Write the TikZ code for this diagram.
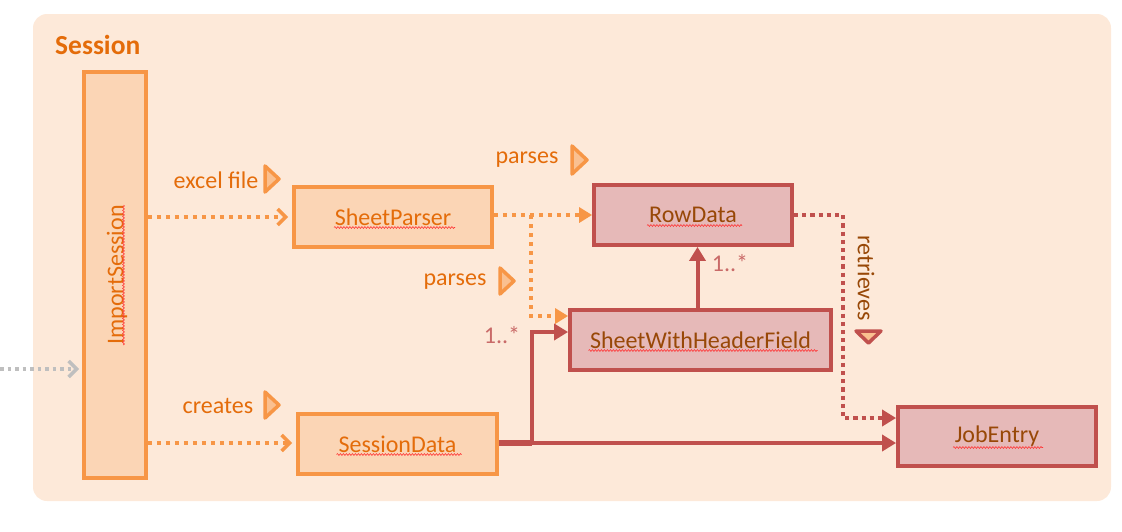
\documentclass[tikz,border=0pt]{standalone}
\usepackage{fontspec}
\setmainfont{Carlito}
\usetikzlibrary{arrows.meta,decorations.pathmorphing}
\definecolor{bgc}{HTML}{FDE9D9}
\definecolor{og}{HTML}{F79646}
\definecolor{ogfill}{HTML}{FBD5B5}
\definecolor{ogtext}{HTML}{E46C0A}
\definecolor{rd}{HTML}{C0504D}
\definecolor{rdfill}{HTML}{E6B9B8}
\definecolor{brn}{HTML}{984807}
\definecolor{mkfill}{HTML}{FAC090}
\definecolor{gry}{HTML}{BFBFBF}
\begin{document}
\begin{tikzpicture}[x=1pt,y=-1pt,
  txt/.style={font=\fontsize{24}{27}\selectfont},
  ogbox/.style={txt,draw=og,fill=ogfill,line width=3.8pt,text=ogtext,inner sep=0pt,minimum height=60pt},
  rdbox/.style={txt,draw=rd,fill=rdfill,line width=3.8pt,text=brn,inner sep=0pt,minimum height=60pt},
  lbl/.style={txt,text=ogtext,inner sep=0pt},
  mult/.style={txt,text=rd!85,inner sep=0pt},
  ogdot/.style={draw=og,line width=4pt,dash pattern=on 4pt off 5pt},
  rddot/.style={draw=rd,line width=4.2pt,dash pattern=on 4.2pt off 4pt},
  rdline/.style={draw=rd,line width=4pt},
  barb/.style={-{Straight Barb[length=8pt,width=16pt,line width=3.5pt]}},
  ogtri/.style={-{Triangle[length=13pt,width=15pt]}},
  rdtri/.style={-{Triangle[length=14pt,width=16pt]}},
  marker/.style={draw=og,fill=mkfill,line width=3.5pt,line join=round},
  squig/.style={draw=red!80,line width=0.6pt,decorate,decoration={snake,amplitude=0.9pt,segment length=3pt}}
]
\useasboundingbox (0,0) rectangle (1122,531);
% background frame
\node[draw=none,fill=bgc,rounded corners=14pt,minimum width=1078pt,minimum height=487pt,inner sep=0pt] (frame) at (572,257.5) {};
\node[font=\fontsize{27.5}{30}\selectfont\bfseries,text=ogtext,anchor=west,inner sep=0pt] (title) at (55,45) {Session};

% boxes
\node[ogbox,minimum width=62pt,minimum height=406pt] (imp) at (115,275) {};
\node[txt,text=ogtext,rotate=90,inner sep=0pt] (imptext) at (117,275) {ImportSession};
\node[ogbox,minimum width=198pt] (sp) at (393,217) {SheetParser};
\node[rdbox,minimum width=198pt] (rdat) at (693,215) {RowData};
\node[rdbox,minimum width=261pt] (swh) at (700.5,340) {SheetWithHeaderField};
\node[ogbox,minimum width=199pt] (sd) at (397.5,444) {SessionData};
\node[rdbox,minimum width=198pt,minimum height=59pt] (je) at (997,436.5) {JobEntry};

% spelling squiggles
\draw[squig] ([xshift=-59pt,yshift=-10.5pt]sp.center) -- ++(121,0);
\draw[squig] ([xshift=-46pt,yshift=-10.5pt]rdat.center) -- ++(95,0);
\draw[squig] ([xshift=-112pt,yshift=-10.5pt]swh.center) -- ++(229,0);
\draw[squig] ([xshift=-61pt,yshift=-10.5pt]sd.center) -- ++(125,0);
\draw[squig] ([xshift=-44pt,yshift=-11pt]je.center) -- ++(90,0);
\draw[squig] ([xshift=8.5pt,yshift=70pt]imp.center) -- ++(0,140);

% connectors
\coordinate (gin) at (0,369);
\draw[draw=gry,line width=3.5pt,dash pattern=on 3.5pt off 4pt,barb] (gin) -- ([xshift=-3pt]imp.west |- gin);
\draw[ogdot,barb] (imp.east |- sp.west) -- ([xshift=-4pt]sp.west);
\draw[ogdot,barb] ([yshift=1pt]imp.east |- sd.west) -- ([xshift=-4pt,yshift=1pt]sd.west);
\draw[ogdot,ogtri] (sp.east |- rdat.west) -- (rdat.west);
\coordinate (br) at (531,215);
\draw[ogdot,ogtri] (br) |- ([yshift=24pt]swh.west);
\draw[rddot,rdtri] (rdat.east) -- ++(49,0) |- ([yshift=18.5pt]je.west);
\draw[rdline,rdtri] ([xshift=-3pt]swh.north) -- ([xshift=-3pt]swh.north |- rdat.south);
\coordinate (jn) at (532,443);
\draw[rd,line width=6pt] ([yshift=1pt]sd.east) -- (jn);
\draw[rdline,rdtri] (jn) |- ([yshift=8pt]swh.west);
\draw[rdline,rdtri] (jn) -- (je.west |- jn);

% labels
\node[lbl] (l1) at (216,180) {excel file};
\draw[marker] (265,166) -- (279,179) -- (265,192) -- cycle;
\node[lbl] (l2) at (527,160) {parses};
\draw[marker] (572,146) -- (587,160) -- (572,174) -- cycle;
\node[lbl] (l3) at (455,282) {parses};
\draw[marker] (500,268) -- (514,281) -- (500,294) -- cycle;
\node[lbl] (l4) at (218,406) {creates};
\draw[marker] (265,392) -- (279,405) -- (265,418) -- cycle;
\node[mult] (m1) at (730,263) {1..*};
\node[mult] (m2) at (502,335) {1..*};
\node[txt,text=brn,rotate=-90,inner sep=0pt] (ret) at (866,278) {retrieves};
\draw[marker,draw=rd] (856,331) -- (881,331) -- (868.5,343) -- cycle;
\end{tikzpicture}
\end{document}
